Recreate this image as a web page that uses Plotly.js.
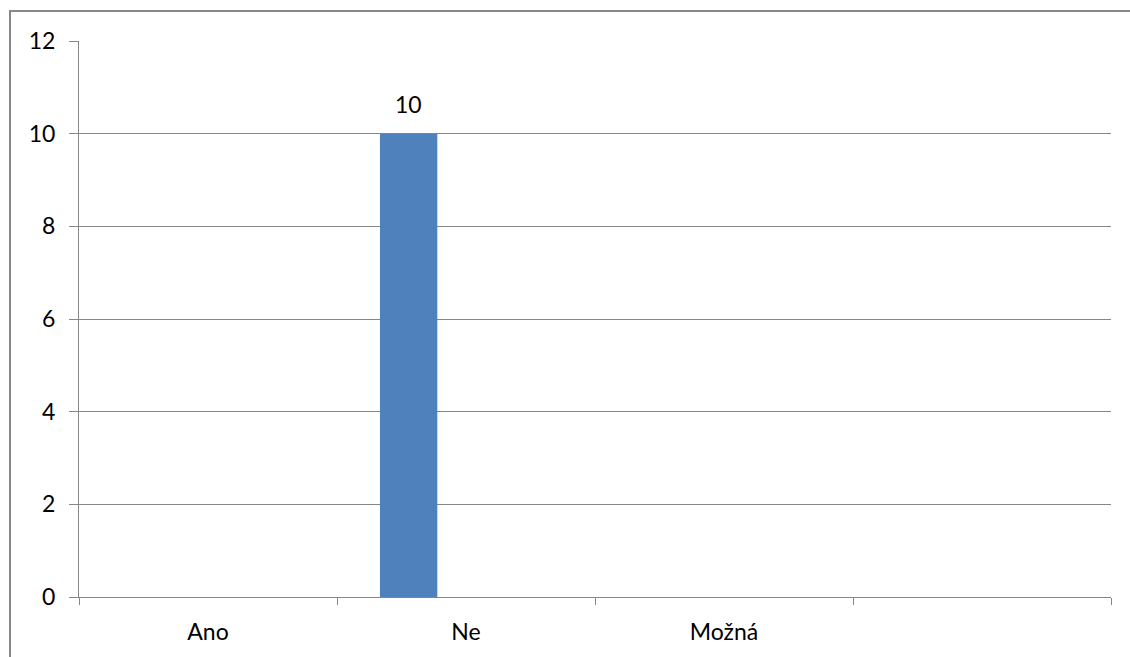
<!DOCTYPE html>
<html>
<head>
<meta charset="utf-8">
<script src="https://cdn.plot.ly/plotly-3.0.1.min.js"></script>
<style>
  html, body { margin: 0; padding: 0; background: #fff; }
  #chart { width: 1130px; height: 657px; }
</style>
</head>
<body>
<div id="chart"></div>
<script>
// Answer categories (the last slot is an empty category in the source sheet)
const categories = ["Ano", "Ne", "Možná", " "];

// Three series; only the first one has a value (10 for "Ne")
const series1 = [null, 10, null, null];
const series2 = [null, null, null, null];
const series3 = [null, null, null, null];
const seriesNames = ["Řada 1", "Řada 2", "Řada 3"];
const allSeries = [series1, series2, series3];

// Y axis tick values
const yTicks = [0, 2, 4, 6, 8, 10, 12];

const barColor = "#4F81BD";
const gridColor = "#868686";
const fontFamily = "Lato, 'Noto Sans', 'DejaVu Sans', sans-serif";
const fontSize = 23;

const plotL = 79, plotR = 1111, plotT = 41, plotB = 597;
const pw = plotR - plotL, ph = plotB - plotT;
const fx = px => (px - plotL) / pw;
const fy = py => (plotB - py) / ph;

const bargap = 0.333;
const catWidthPx = pw / categories.length;
const barWidthPx = catWidthPx * (1 - bargap) / allSeries.length;

const data = allSeries.map((values, i) => ({
  type: "bar",
  x: categories,
  y: values,
  name: seriesNames[i],
  marker: { color: barColor },
  hoverinfo: "x+y"
}));

// Value labels placed above each bar, shifted to the bar's slot in the group
const annotations = [];
allSeries.forEach((values, i) => {
  values.forEach((v, j) => {
    if (v === null) return;
    annotations.push({
      x: categories[j], y: v, xref: "x", yref: "y",
      text: String(v), showarrow: false,
      xanchor: "center", yanchor: "bottom",
      xshift: (i - (allSeries.length - 1) / 2) * barWidthPx,
      yshift: 14,
      font: { family: fontFamily, size: fontSize, color: "#000" }
    });
  });
});

const layout = {
  width: 1130,
  height: 657,
  margin: { l: plotL, r: 1130 - plotR, t: plotT, b: 657 - plotB, pad: 0 },
  paper_bgcolor: "#fff",
  plot_bgcolor: "#fff",
  showlegend: false,
  barmode: "group",
  bargap: bargap,
  bargroupgap: 0,
  font: { family: fontFamily, size: fontSize, color: "#000" },
  xaxis: {
    type: "category",
    categoryorder: "array",
    categoryarray: categories,
    range: [-0.5, 3.5],
    tickson: "boundaries",
    ticks: "outside",
    ticklen: 7,
    tickwidth: 1,
    tickcolor: gridColor,
    showgrid: false,
    showline: true,
    linecolor: gridColor,
    linewidth: 1,
    zeroline: false,
    tickfont: { family: fontFamily, size: fontSize, color: "#000" },
    ticklabelstandoff: 14,
    fixedrange: true
  },
  yaxis: {
    range: [0, 12],
    tickvals: yTicks,
    ticks: "outside",
    ticklen: 9,
    tickwidth: 1,
    tickcolor: gridColor,
    showgrid: true,
    gridcolor: gridColor,
    gridwidth: 1,
    showline: true,
    linecolor: gridColor,
    linewidth: 1,
    zeroline: false,
    tickfont: { family: fontFamily, size: fontSize, color: "#000" },
    ticklabelstandoff: 9,
    fixedrange: true
  },
  annotations: annotations,
  shapes: [
    {
      type: "rect", xref: "paper", yref: "paper",
      x0: fx(10), x1: fx(1140), y0: fy(670), y1: fy(11),
      line: { color: "#888888", width: 2 },
      fillcolor: "rgba(0,0,0,0)",
      layer: "above"
    }
  ]
};

Plotly.newPlot("chart", data, layout, { displayModeBar: false, staticPlot: true });
</script>
</body>
</html>
